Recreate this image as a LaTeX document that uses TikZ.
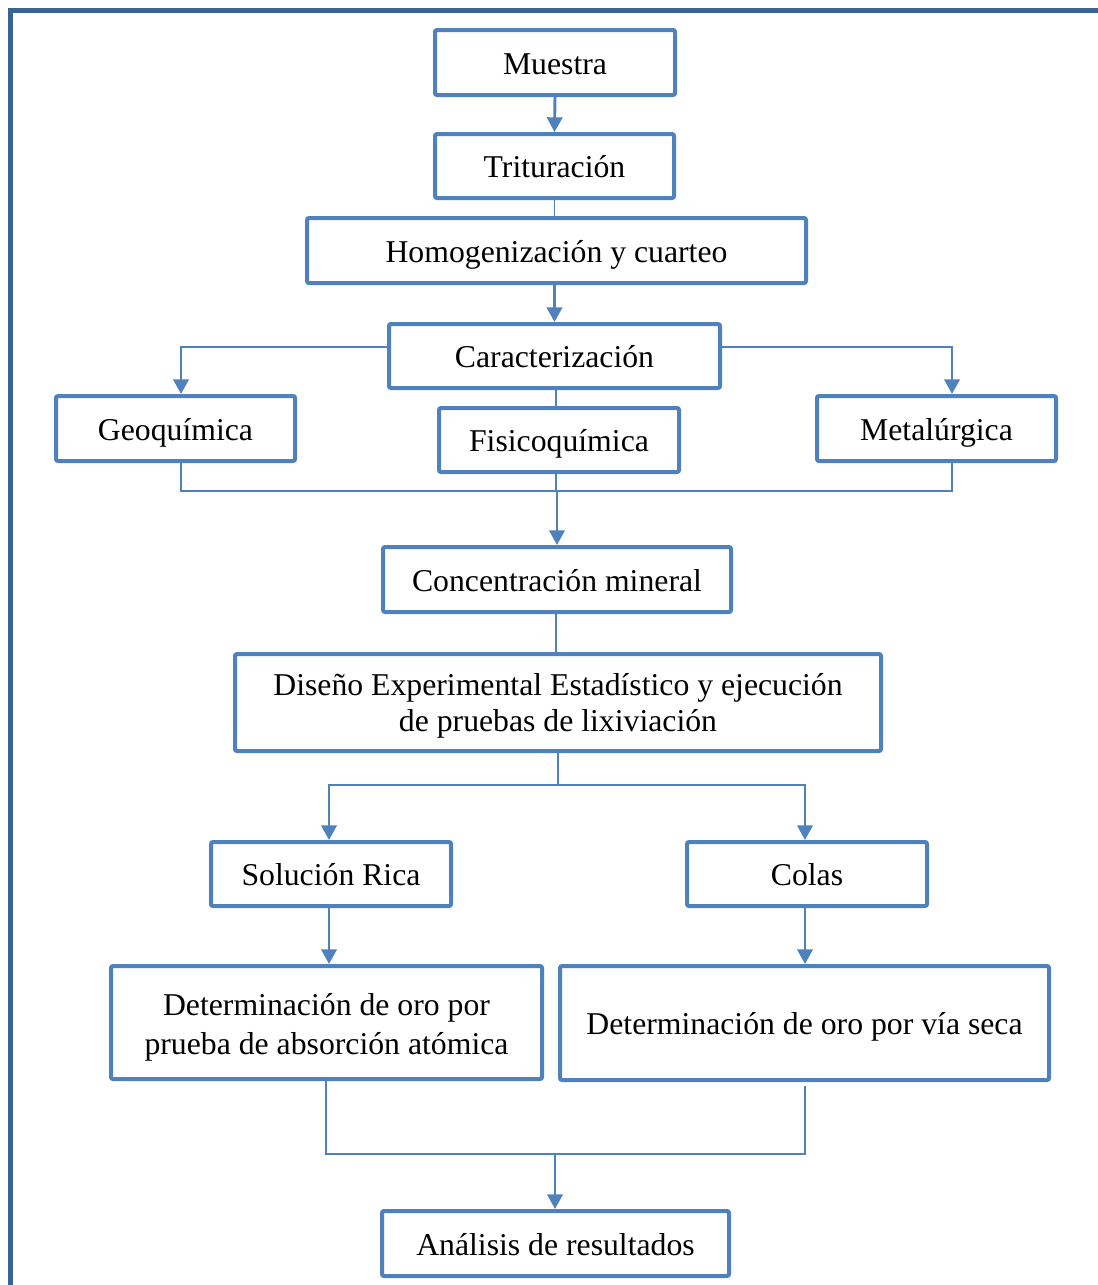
\documentclass[tikz,border=0pt]{standalone}
\usepackage{fontspec}
\setmainfont{Liberation Serif}
\usetikzlibrary{arrows.meta,calc}
\definecolor{boxblue}{HTML}{4F81BD}
\definecolor{framecol}{HTML}{3A6394}
\newcommand\linestrut[1]{\rule[-3.2pt]{0pt}{#1}}
\begin{document}
\begin{tikzpicture}[x=0.75pt,y=-0.75pt,
  box/.style={draw=boxblue, line width=3pt, rounded corners=1.5pt, fill=white,
    align=center, inner sep=0pt, font=\fontsize{23.8}{28}\selectfont},
  oneline/.style={text height=21pt, text depth=3.2pt},
  arr/.style={draw=boxblue, line width=2.2pt, -{Triangle[width=11.5pt,length=11pt]}},
  link/.style={draw=boxblue, line width=1.4pt},
  frame/.style={draw=framecol, line width=3.75pt}]
\useasboundingbox (0,0) rectangle (1098,1285);
% frame
\draw[frame] (10,1290) -- (10,10.5) -- (1100,10.5);
% nodes
\node[box, oneline, minimum width=180pt, minimum height=48.75pt] (mue) at (555,62.5) {Muestra};
\node[box, oneline, minimum width=179.25pt, minimum height=48pt] (tri) at (554.5,166) {Trituración};
\node[box, oneline, minimum width=374.25pt, minimum height=48.75pt] (hom) at (556.5,250.5) {Homogenización y cuarteo};
\node[box, oneline, minimum width=248.25pt, minimum height=48pt] (car) at (554.5,356) {Caracterización};
\node[box, oneline, minimum width=179.25pt, minimum height=48.75pt] (geo) at (175.5,428.5) {Geoquímica};
\node[box, oneline, minimum width=180pt, minimum height=48pt] (fis) at (559,440) {Fisicoquímica};
\node[box, oneline, minimum width=179.25pt, minimum height=48.75pt] (met) at (936.5,428.5) {Metalúrgica};
\node[box, oneline, minimum width=261pt, minimum height=48.75pt] (con) at (557,579.5) {Concentración mineral};
\node[box, font=\fontsize{23.8}{27}\selectfont, minimum width=484.5pt, minimum height=72.75pt] (dis) at (558,702.5)
  {\linestrut{25.2pt}Diseño Experimental Estadístico y ejecución\\\linestrut{22.2pt}de pruebas de lixiviación};
\node[box, oneline, minimum width=180pt, minimum height=48pt] (sol) at (331,874) {Solución Rica};
\node[box, oneline, minimum width=180pt, minimum height=48pt] (col) at (807,874) {Colas};
\node[box, font=\fontsize{23.8}{29.25}\selectfont, minimum width=323.25pt, minimum height=84.75pt] (deta) at (326.5,1022.5)
  {\linestrut{27.2pt}Determinación de oro por\\\linestrut{24.2pt}prueba de absorción atómica};
\node[box, oneline, minimum width=366.75pt, minimum height=85.5pt] (detb) at (804.5,1023) {Determinación de oro por vía seca};
\node[box, oneline, minimum width=260.25pt, minimum height=48.75pt] (ana) at (555.5,1243.5) {Análisis de resultados};
% helper coordinates
\coordinate (m1) at (557,491);
\coordinate (m2) at (558,785);
\coordinate (m3) at (555,1154);
% connectors
\draw[arr] (mue.south) -- (tri.north);
\draw[link] (tri.south) -- (tri.south |- hom.north);
\draw[arr] (hom.south -| car.north) -- (car.north);
\draw[arr] ($(car.west)+(0,-9)$) -| ($(geo.north)+(5.5,0)$);
\draw[arr] ($(car.east)+(0,-9)$) -| ($(met.north)+(15.5,0)$);
\draw[link] ($(car.south)+(1.5,0)$) -- ($(fis.north)+(-3,0)$);
\draw[link] ($(geo.south)+(5.5,0)$) |- (m1) -| ($(met.south)+(15.5,0)$);
\draw[link] ($(fis.south)+(-3,0)$) -- ($(fis.south)+(-3,17)$);
\draw[arr] (m1) -- (m1 |- con.north);
\draw[link] ($(con.south)+(-1,0)$) -- ($(dis.north)+(-2,0)$);
\draw[link] (dis.south) -- (m2);
\draw[arr] (m2) -| ($(sol.north)+(-2,0)$);
\draw[arr] (m2) -| ($(col.north)+(-2,0)$);
\draw[arr] ($(sol.south)+(-2,0)$) -- ($(deta.north)+(2.5,0)$);
\draw[arr] ($(col.south)+(-2,0)$) -- ($(detb.north)+(0.5,0)$);
\draw[link] ($(deta.south)+(-0.5,0)$) |- (m3);
\draw[link] ($(detb.south)+(0.5,4)$) |- (m3);
\draw[arr] (m3) -- (m3 |- ana.north);
\end{tikzpicture}
\end{document}
